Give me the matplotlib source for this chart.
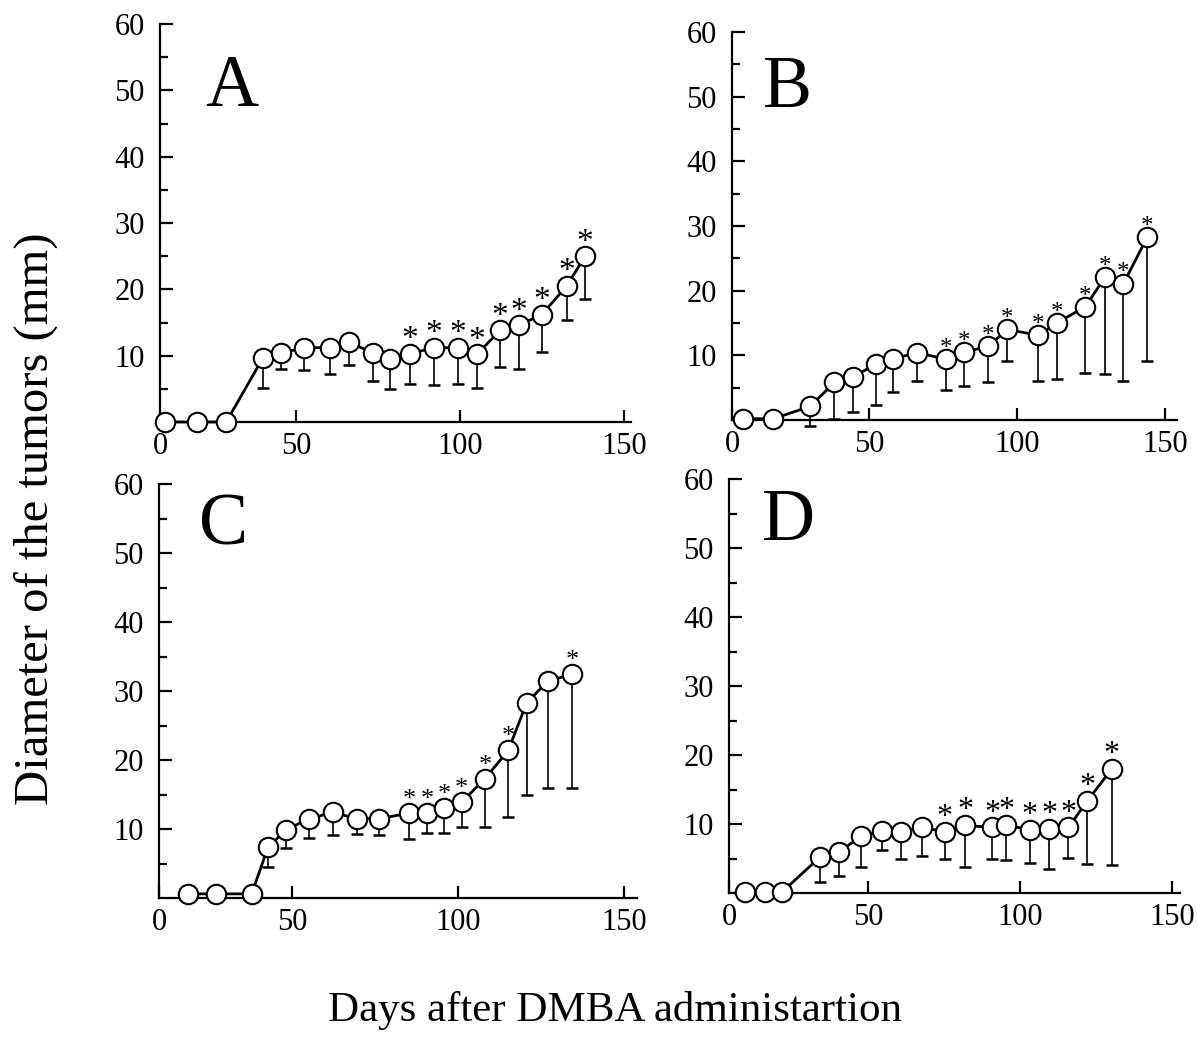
import matplotlib
matplotlib.use("Agg")
import matplotlib.pyplot as plt
import numpy as np

plt.rcParams['font.family'] = ['Liberation Serif', 'DejaVu Serif']

# panel A
days_a = [10.1, 19.7, 28.7, 39.8, 45.4, 52.5, 60.2, 66.0, 73.3, 78.7, 84.6, 92.1, 99.3, 105.1, 112.2, 118.0, 124.9, 132.5, 138.1]
diam_a = [0, 0, 0, 9.6, 10.4, 11.2, 11.2, 12.1, 10.4, 9.5, 10.3, 11.2, 11.2, 10.2, 13.8, 14.6, 16.2, 20.5, 25.0]
low_a = [0, 0, 0, 5.2, 8.0, 7.9, 7.2, 8.6, 6.2, 5.0, 5.8, 5.6, 5.8, 5.2, 8.3, 8.0, 10.6, 15.4, 18.6]
star_a = [10, 11, 12, 13, 14, 15, 16, 17, 18]

# panel B
days_b = [7.3, 17.7, 30.1, 38.3, 44.5, 52.4, 58.2, 66.3, 76.0, 82.2, 90.3, 96.7, 107.2, 113.4, 123.0, 129.7, 135.9, 144.0]
diam_b = [0.2, 0.2, 2.1, 5.8, 6.7, 8.6, 9.5, 10.4, 9.4, 10.5, 11.4, 14.0, 13.1, 15.0, 17.5, 22.1, 21.1, 28.3]
low_b = [0.2, 0.2, -0.9, 0.1, 1.2, 2.3, 4.3, 6.1, 4.6, 5.3, 5.8, 9.1, 6.0, 6.3, 7.3, 7.1, 6.1, 9.2]
star_b = [8, 9, 10, 11, 12, 13, 14, 15, 16, 17]

# panel C
days_c = [18.6, 27.0, 37.7, 42.7, 48.1, 55.1, 62.1, 69.4, 76.2, 85.2, 90.5, 95.7, 101.0, 108.0, 115.0, 120.6, 127.1, 134.3]
diam_c = [0.6, 0.6, 0.6, 7.4, 9.9, 11.5, 12.4, 11.5, 11.5, 12.3, 12.3, 13.1, 13.9, 17.3, 21.4, 28.3, 31.5, 32.4]
low_c = [0.6, 0.6, 0.6, 4.5, 7.3, 8.7, 9.1, 9.3, 9.2, 8.6, 9.4, 9.4, 10.3, 10.3, 11.8, 15.0, 15.9, 15.9]
star_c = [9, 10, 11, 12, 13, 14, 17]

# panel D
days_d = [9.4, 15.9, 21.8, 34.1, 40.5, 47.6, 54.5, 60.8, 67.6, 75.2, 81.9, 90.8, 95.5, 103.1, 109.6, 115.9, 122.0, 130.2]
diam_d = [0.2, 0.2, 0.2, 5.2, 6.0, 8.2, 9.0, 8.8, 9.5, 8.9, 9.8, 9.5, 9.8, 9.2, 9.3, 9.5, 13.3, 18.0]
low_d = [0.2, 0.2, 0.2, 1.6, 2.4, 3.8, 6.3, 5.0, 5.3, 5.0, 3.8, 5.0, 4.8, 4.3, 3.5, 5.1, 4.2, 4.0]
star_d = [9, 10, 11, 12, 13, 14, 15, 16, 17]

W, H = 1197, 1052
fig = plt.figure(figsize=(W / 100, H / 100), dpi=100)


def px_axes(l, t, r, b):
    return fig.add_axes([l / W, 1 - b / H, (r - l) / W, (b - t) / H])


def panel(ax, days, diam, low, stars, letter, lxy, xlim, ssize, soff):
    days = np.array(days)
    diam = np.array(diam)
    err = diam - np.array(low)
    eb = ax.errorbar(days, diam, yerr=[err, np.zeros_like(err)], fmt='none',
                     ecolor='k', elinewidth=1.2, capsize=4, capthick=1.8, zorder=2)
    for art in eb.lines[1] + eb.lines[2]:
        art.set_clip_on(False)
    ax.plot(days, diam, '-o', color='k', lw=2, ms=14, mfc='white', mec='k',
            mew=1.5, zorder=3, clip_on=False)
    for i in stars:
        ax.annotate('*', (days[i], diam[i]), xytext=(0, soff), textcoords='offset points',
                    ha='center', va='baseline', fontsize=ssize)
    ax.text(lxy[0], lxy[1], letter, transform=ax.transAxes, fontsize=53,
            ha='center', va='center')
    ax.set_xlim(*xlim)
    ax.set_ylim(0, 60)
    for s in ['top', 'right']:
        ax.spines[s].set_visible(False)
    for s in ['left', 'bottom']:
        ax.spines[s].set_linewidth(1.6)
    ax.set_yticks([10, 20, 30, 40, 50, 60])
    ax.set_yticks(np.arange(5, 60, 10), minor=True)
    ax.set_xticks([xlim[0], 50, 100, 150])
    ax.set_xticklabels(['0', '50', '100', '150'])
    ax.tick_params(axis='both', which='major', direction='in', length=9, width=1.6,
                   labelsize=22)
    ax.tick_params(axis='y', which='major', pad=11)
    ax.tick_params(axis='x', which='major', pad=7)
    ax.tick_params(axis='y', which='minor', direction='in', length=6, width=1.6)


ax_a = px_axes(160, 24, 631, 422)
panel(ax_a, days_a, diam_a, low_a, star_a, 'A', (0.153, 0.839), (8.5, 152.1), 24, 4)
ax_b = px_axes(732, 32, 1177, 420)
panel(ax_b, days_b, diam_b, low_b, star_b, 'B', (0.124, 0.853), (3.7, 154.0), 18, 3)
ax_c = px_axes(159, 484, 637, 898)
panel(ax_c, days_c, diam_c, low_c, star_c, 'C', (0.136, 0.896), (9.8, 153.8), 19, 5)
ax_d = px_axes(729, 479, 1180, 893)
panel(ax_d, days_d, diam_d, low_d, star_d, 'D', (0.133, 0.896), (4.2, 152.6), 23, 5)

fig.text(36 / W, 1 - 519 / H, 'Diameter of the tumors (mm)', rotation=90,
         ha='center', va='center', fontsize=35)
fig.text(615 / W, 1 - 1010 / H, 'Days after DMBA administartion',
         ha='center', va='center', fontsize=31)

fig.savefig('out.png', dpi=100)
